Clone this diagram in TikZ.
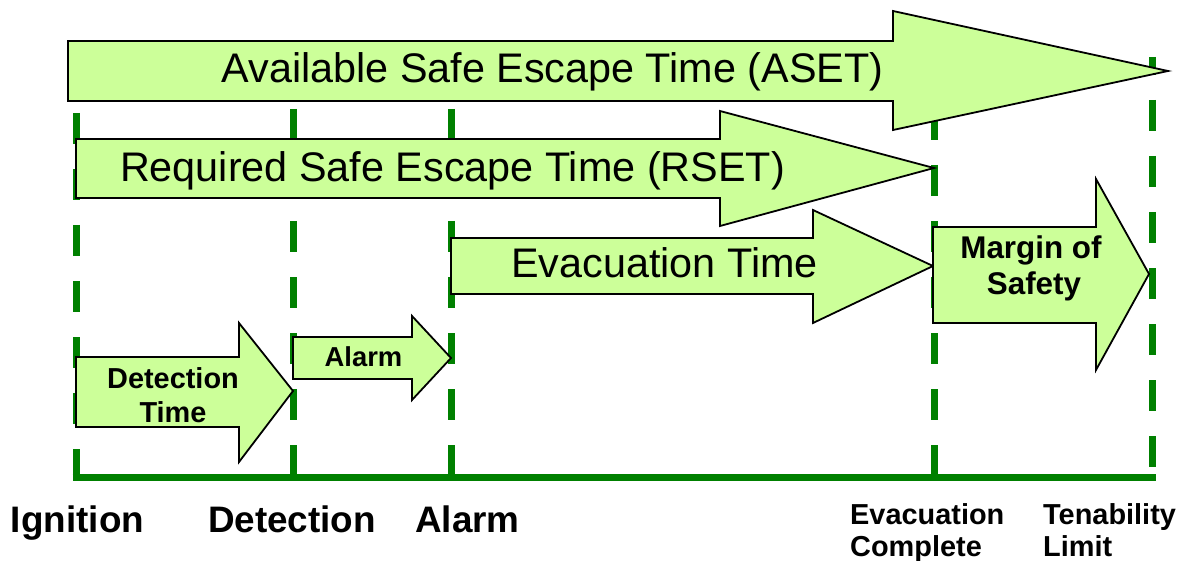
\documentclass[tikz,border=0pt]{standalone}
\usepackage{fontspec}
\setmainfont{Liberation Sans}
\definecolor{arrowfill}{HTML}{CCFF99}
\definecolor{timeline}{HTML}{008000}
\begin{document}
\begin{tikzpicture}[x=1bp,y=-1bp,
  blockarrow/.style={draw=black, line width=1.8bp, fill=arrowfill, line join=miter},
  marker/.style={draw=timeline, line width=7bp, dash pattern=on 31bp off 25bp},
  axisline/.style={draw=timeline, line width=7bp},
  bigtext/.style={font=\fontsize{41.5}{48}\selectfont, anchor=base, inner sep=0pt},
  boxtext/.style={font=\fontsize{29}{34}\selectfont\bfseries, anchor=base, inner sep=0pt},
  eventtext/.style={font=\fontsize{37}{44}\selectfont\bfseries, anchor=base, inner sep=0pt},
  smalltext/.style={font=\fontsize{29}{34}\selectfont\bfseries, anchor=base west, inner sep=0pt}
]
\useasboundingbox (0,0) rectangle (1185,561);

% timeline coordinates
\coordinate (ignTop) at (76,113);
\coordinate (ignBot) at (76,477);
\coordinate (detTop) at (293,109);
\coordinate (detBot) at (293,477);
\coordinate (alaTop) at (451,109);
\coordinate (alaBot) at (451,477);
\coordinate (evaTop) at (934,109);
\coordinate (evaBot) at (934,477);
\coordinate (tenTop) at (1152,57);
\coordinate (tenBot) at (1152,477);

% timeline
\draw[axisline] (72.5,477) -- (1155.5,477);
\draw[marker] (ignTop) -- (ignBot);
\draw[marker] (detTop) -- (detBot);
\draw[marker] (alaTop) -- (alaBot);
\draw[marker] (evaTop) -- (evaBot);
\draw[marker, dash phase=13bp] (tenTop) -- (tenBot);

% ASET
\draw[blockarrow] (68,41) -- (893,41) -- (893,11) -- (1168,71) -- (893,130) -- (893,101) -- (68,101) -- cycle;
\node[bigtext] (aset) at (552.5,83) {Available Safe Escape Time (ASET)};

% RSET
\draw[blockarrow] (76,139) -- (720,139) -- (720,111) -- (934,168) -- (720,226) -- (720,198) -- (76,198) -- cycle;
\node[bigtext] (rset) at (452.5,182) {Required Safe Escape Time (RSET)};

% Evacuation time
\draw[blockarrow] (451,238) -- (813,238) -- (813,210) -- (933,266) -- (813,323) -- (813,294) -- (451,294) -- cycle;
\node[bigtext] (evtime) at (664.5,278) {Evacuation Time};

% Margin of safety
\draw[blockarrow] (933,227) -- (1096,227) -- (1096,179) -- (1149,274) -- (1096,370) -- (1096,323) -- (933,323) -- cycle;
\node[boxtext, font=\fontsize{31.5}{36}\selectfont\bfseries] (margin1) at (1031,259) {Margin of};
\node[boxtext, font=\fontsize{31.5}{36}\selectfont\bfseries] (margin2) at (1034,295) {Safety};

% Detection time
\draw[blockarrow] (76,357) -- (239,357) -- (239,323) -- (293,391) -- (239,462) -- (239,427) -- (76,427) -- cycle;
\node[boxtext] (dettime1) at (173,388) {Detection};
\node[boxtext] (dettime2) at (173,422) {Time};

% Alarm
\draw[blockarrow] (293,337) -- (412,337) -- (412,316) -- (451,358) -- (412,400) -- (412,379) -- (293,379) -- cycle;
\node[boxtext, font=\fontsize{27.5}{32}\selectfont\bfseries] (alarmtime) at (363.5,367) {Alarm};

% event labels
\node[eventtext] (ignition) at (77.5,532) {Ignition};
\node[eventtext] (detection) at (292,532) {Detection};
\node[eventtext] (alarm) at (467.5,532) {Alarm};
\node[smalltext] (evac1) at (850,524) {Evacuation};
\node[smalltext] (evac2) at (850,556) {Complete};
\node[smalltext] (ten1) at (1043,524) {Tenability};
\node[smalltext] (ten2) at (1043,556) {Limit};
\end{tikzpicture}
\end{document}
